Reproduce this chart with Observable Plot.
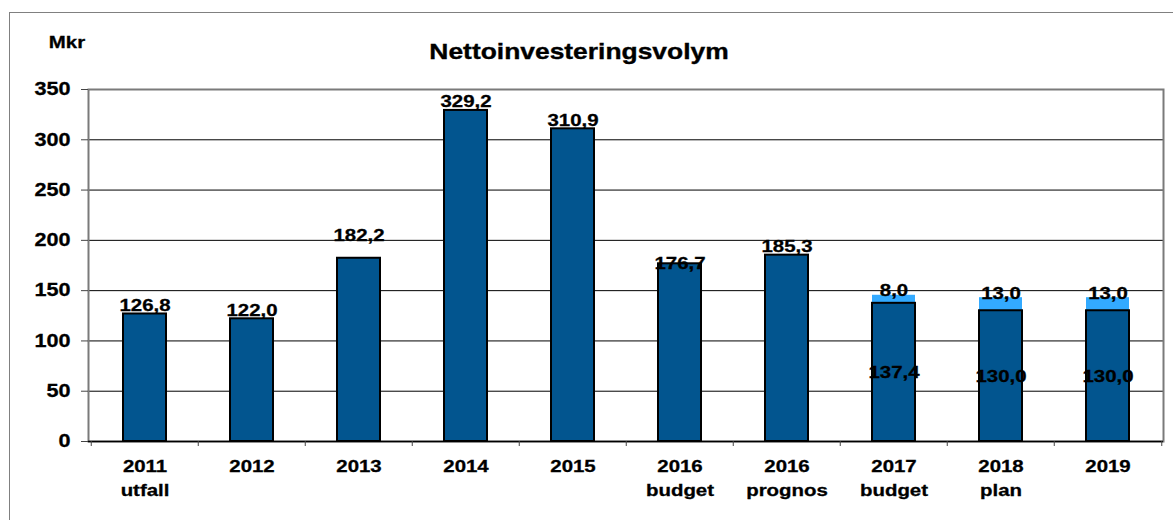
<!DOCTYPE html>
<html>
<head>
<meta charset="utf-8">
<script src="https://cdn.jsdelivr.net/npm/d3@7"></script>
<script src="https://cdn.jsdelivr.net/npm/@observablehq/plot@0.6"></script>
<style>
  html, body { margin: 0; padding: 0; background: #fff; overflow: hidden; }
  #wrap { position: relative; width: 1173px; height: 520px; overflow: hidden; font-family: "Liberation Sans", Arial, sans-serif; font-weight: bold; color: #000; }
  #border { position: absolute; left: 9px; top: 12px; width: 1300px; height: 700px; border: 1.5px solid #808080; box-sizing: border-box; }
  #header { position: relative; height: 60px; }
  #title { position: absolute; left: 379px; width: 400px; top: 39px; text-align: center; font-size: 22px; line-height: 26px; transform: scaleX(1.2); transform-origin: center; -webkit-text-stroke: 0.35px #000; }
  #unit { position: absolute; left: 37px; width: 60px; top: 33px; text-align: center; font-size: 17px; line-height: 20px; transform: scaleX(1.2); transform-origin: center; -webkit-text-stroke: 0.3px #000; }
  #chart { position: relative; }
  #chart svg text { stroke: #000; stroke-width: 0.3px; }
</style>
</head>
<body>
<div id="wrap">
  <div id="border"></div>
  <div id="header">
    <div id="unit">Mkr</div>
    <div id="title">Nettoinvesteringsvolym</div>
  </div>
  <div id="chart"></div>
</div>
<script>
const categories = ["2011\nutfall", "2012", "2013", "2014", "2015", "2016\nbudget", "2016\nprognos", "2017\nbudget", "2018\nplan", "2019"];
const baseValues = [126.8, 122.0, 182.2, 329.2, 310.9, 176.7, 185.3, 137.4, 130.0, 130.0];
const addedValues = [0, 0, 0, 0, 0, 0, 0, 8.0, 13.0, 13.0];
const yTicks = [0, 50, 100, 150, 200, 250, 300, 350];

const data = categories.map((c, i) => ({cat: c, base: baseValues[i], added: addedValues[i]}));
const fmt = v => d3.format(".1f")(v).replace(".", ",");

const W = 1173, H = 460, mL = 88, mR = 10, mT = 29, mB = 79;
const step = (W - mL - mR) / categories.length;

const stacked = data.filter(d => d.added > 0);
const single = data.filter(d => d.added === 0);
const centeredTop = single.filter(d => d.cat === "2016\nbudget");
const raisedTop = single.filter(d => d.cat === "2013");
const normalTop = single.filter(d => d.cat !== "2016\nbudget" && d.cat !== "2013");

const plot = Plot.plot({
  width: W, height: H,
  marginTop: mT, marginBottom: mB, marginLeft: mL, marginRight: mR,
  style: {fontFamily: "'Liberation Sans', Arial, sans-serif", fontWeight: "bold", fontSize: "17px", color: "#000", background: "transparent", overflow: "visible"},
  x: {domain: categories, paddingInner: 0.6, paddingOuter: 0.3, label: null},
  y: {domain: [0, 350], label: null},
  marks: [
    Plot.ruleY(yTicks.filter(t => t > 0 && t < 350), {stroke: "#000", strokeWidth: 1}),
    Plot.frame({stroke: "#7a7a7a", strokeWidth: 2}),
    Plot.ruleY([0], {stroke: "#000", strokeWidth: 1.5}),
    Plot.axisY({ticks: yTicks, tickSize: 7, tickPadding: 11, tickFormat: d => String(d), stroke: "#444", fill: "#000", fontSize: 18, label: null}),
    Plot.axisX({tickSize: 0, tickPadding: 14, lineHeight: 1.4, fill: "#000", fontSize: 17, label: null}),
    Plot.axisX({tickSize: 5, tickFormat: () => "", dx: -step / 2, stroke: "#444", label: null}),
    Plot.axisX([categories[categories.length - 1]], {tickSize: 5, tickFormat: () => "", dx: step / 2, stroke: "#444", label: null}),
    Plot.barY(stacked, {x: "cat", y1: "base", y2: d => d.base + d.added, fill: "#33aaff"}),
    Plot.barY(data, {x: "cat", y: "base", fill: "#02558f", stroke: "#000", strokeWidth: 2}),
    Plot.text(normalTop, {x: "cat", y: "base", text: d => fmt(d.base), lineAnchor: "bottom", dy: -3, fontSize: 17, fill: "#000"}),
    Plot.text(raisedTop, {x: "cat", y: "base", text: d => fmt(d.base), lineAnchor: "bottom", dy: -17, fontSize: 17, fill: "#000"}),
    Plot.text(centeredTop, {x: "cat", y: "base", text: d => fmt(d.base), lineAnchor: "middle", dy: 0, fontSize: 17, fill: "#000"}),
    Plot.text(stacked, {x: "cat", y: d => d.base / 2, text: d => fmt(d.base), lineAnchor: "middle", fontSize: 17, fill: "#000"}),
    Plot.text(stacked, {x: "cat", y: d => d.base + d.added, text: d => fmt(d.added), lineAnchor: "bottom", dy: 1, fontSize: 17, fill: "#000"})
  ]
});

document.getElementById("chart").append(plot);

// widen the glyphs horizontally to match the reference's stretched lettering
const S = 1.2;
plot.querySelectorAll("text").forEach(t => {
  const spans = t.querySelectorAll("tspan");
  const els = spans.length ? Array.from(spans) : [t];
  els.forEach(e => {
    const w = e.getComputedTextLength();
    if (w > 0) {
      e.setAttribute("textLength", (w * S).toFixed(2));
      e.setAttribute("lengthAdjust", "spacingAndGlyphs");
    }
  });
});
</script>
</body>
</html>
